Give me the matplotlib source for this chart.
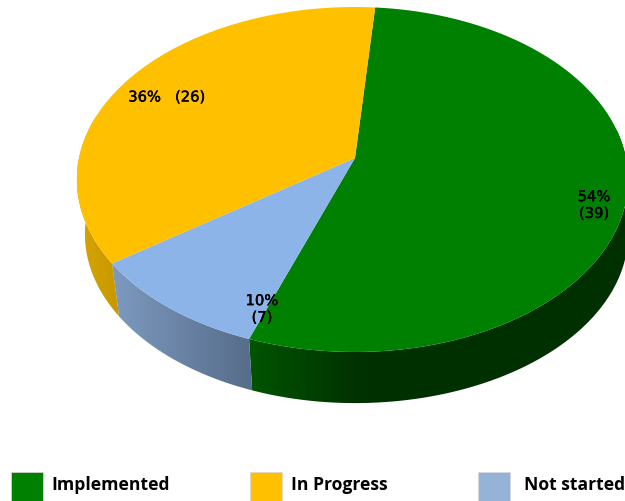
import numpy as np
import matplotlib
matplotlib.use("Agg")
import matplotlib.pyplot as plt
import matplotlib.patheffects as pe
from matplotlib.colors import to_rgb
from matplotlib.patches import Polygon, Rectangle

labels = ["Implemented", "In Progress", "Not started"]
counts = [39, 7, 26]  # clockwise order around the pie
percents = [54, 10, 36]
names = ["Implemented", "Not started", "In Progress"]
top_colors = {"Implemented": "#008000", "In Progress": "#ffc000", "Not started": "#8db4e8"}
legend_colors = {"Implemented": "#008000", "In Progress": "#ffc000", "Not started": "#95b3d7"}
# wall shading: colour at the left and right end of each slice's wall
wall_colors = {
    "Implemented": ("#005400", "#003000"),
    "Not started": ("#7d9abf", "#566c8a"),
    "In Progress": ("#d6a400", "#c79800"),
}

W, H = 625, 501
START = 4.8  # clockwise from 12 o'clock
APEX = (355, 158)
K = 0.1246


def rim(clock_deg, drop=0.0, bx_left=276, bx_right=271, shrink_y=1.0):
    # perspective projection of the pie circle onto the page
    t = np.radians(clock_deg)
    u, v = np.sin(t), np.cos(t)
    den = 1 + K * v
    bx = np.where(u < 0, bx_left, bx_right)
    x = APEX[0] + bx * u / den
    y = APEX[1] + drop - 169.8 * shrink_y * v / den
    return x, y


fig = plt.figure(figsize=(W / 100, H / 100), dpi=100)
ax = fig.add_axes([0, 0, 1, 1])

shares = np.array(counts) / sum(counts) * 360
edges = START + np.concatenate([[0], np.cumsum(shares)])

# side wall first, the top covers whatever is behind
for name, a0, a1 in zip(names, edges[:-1], edges[1:]):
    lo, hi = max(a0, 80), min(a1, 285)
    if hi <= lo:
        continue
    steps = np.linspace(lo, hi, 200)
    xt, yt = rim(steps)
    xb, yb = rim(steps[::-1], drop=55, bx_left=268, bx_right=271, shrink_y=0.98)
    pts = np.column_stack([np.r_[xt, xb], np.r_[yt, yb]])
    left, right = pts[:, 0].min(), pts[:, 0].max()
    c_left, c_right = (np.array(to_rgb(c)) for c in wall_colors[name])
    ramp = np.linspace(0, 1, 256)
    if name == "Implemented":
        # green reaches its darkest shade soon after the slice starts
        ramp = np.clip(ramp / 0.3, 0, 1)
    grad = c_left[None, None, :] + (c_right - c_left)[None, None, :] * ramp[None, :, None]
    im = ax.imshow(grad, extent=(left, right, H, 0), aspect="auto", interpolation="bilinear")
    poly = Polygon(pts, facecolor="none", edgecolor="none", transform=ax.transData)
    ax.add_patch(poly)
    im.set_clip_path(poly)

for name, a0, a1 in zip(names, edges[:-1], edges[1:]):
    xs, ys = rim(np.linspace(a0, a1, 300))
    pts = np.column_stack([np.r_[APEX[0], xs], np.r_[APEX[1], ys]])
    ax.add_patch(Polygon(pts, facecolor=top_colors[name], edgecolor="none", zorder=3))

# data labels
soft = [pe.withStroke(linewidth=0.3, foreground="black")]
label_xy = {"Implemented": (594, 205), "Not started": (262, 309), "In Progress": (167, 97)}
for name, n, p in zip(names, counts, percents):
    sep = "   " if name == "In Progress" else "\n"
    ax.text(*label_xy[name], f"{p}%{sep}({n})", ha="center", va="center", fontsize=10.6,
            family="DejaVu Sans", color="black", linespacing=1.15, zorder=5, path_effects=soft)

# legend
box_x = [11, 250, 478]
text_x = [51, 291, 524]
for name, bx, tx in zip(labels, box_x, text_x):
    ax.add_patch(Rectangle((bx, 472), 32, 30, facecolor=legend_colors[name],
                           edgecolor="#d8d8d8", lw=0.5, zorder=4))
    ax.text(tx, 485, name, ha="left", va="center", fontsize=12.6, fontweight="bold",
            family="Open Sans", color="black", zorder=5)

ax.set_xlim(0, W)
ax.set_ylim(H, 0)
ax.axis("off")

fig.savefig("out.png", dpi=100)
